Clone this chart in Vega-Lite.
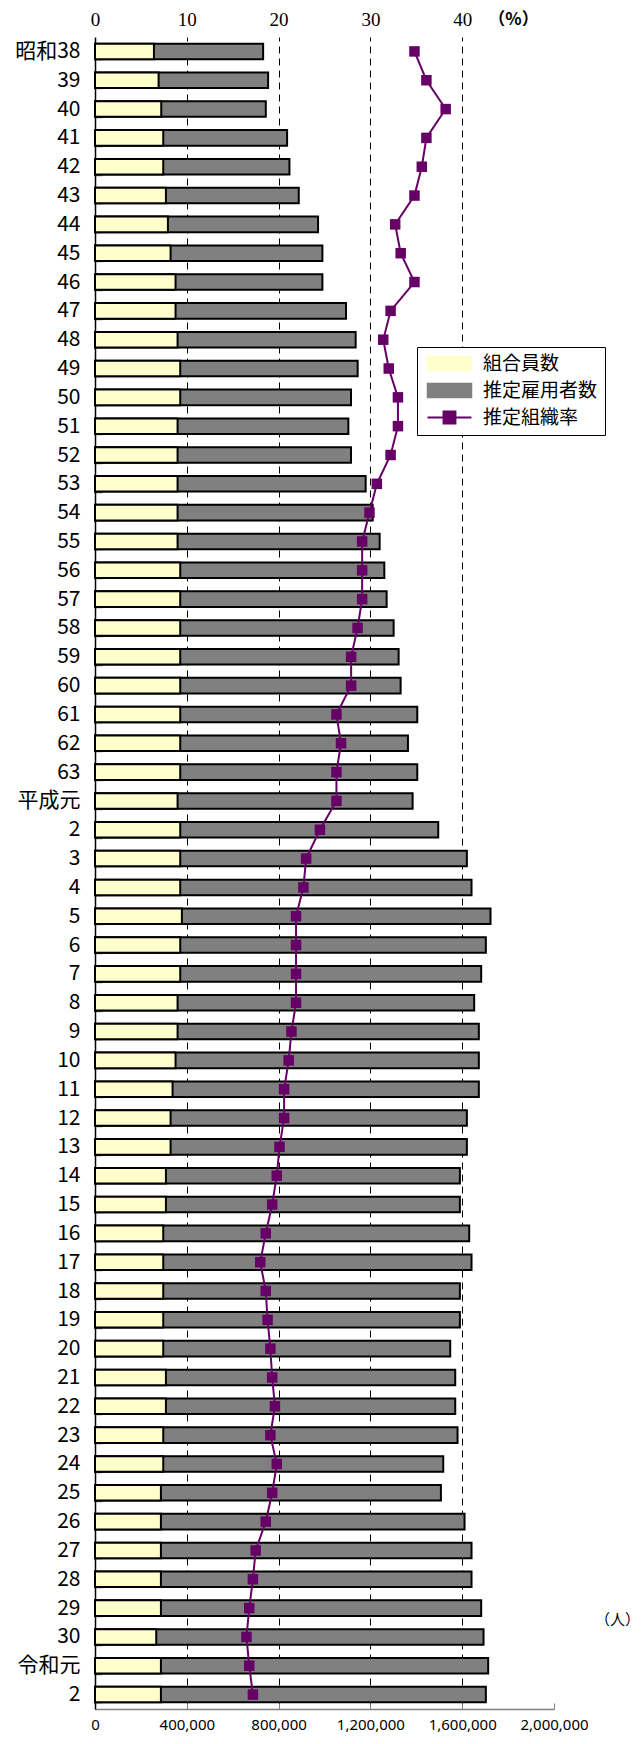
{
  "$schema": "https://vega.github.io/schema/vega-lite/v6.json",
  "autosize": {"type": "none"},
  "padding": {"left": 95, "top": 37, "right": 89, "bottom": 35},
  "width": 459,
  "height": 1672,
  "background": "white",
  "config": {"view": {"stroke": null}, "font": "Noto Sans CJK JP"},
  "data": {"values": [
    {"year": 1963, "組合員数": 256800, "推定雇用者数": 732600, "rate": 34.8},
    {"year": 1964, "組合員数": 277100, "推定雇用者数": 754300, "rate": 36.1},
    {"year": 1965, "組合員数": 288700, "推定雇用者数": 744200, "rate": 38.2},
    {"year": 1966, "組合員数": 297400, "推定雇用者数": 837000, "rate": 36.1},
    {"year": 1967, "組合員数": 297400, "推定雇用者数": 847200, "rate": 35.6},
    {"year": 1968, "組合員数": 309000, "推定雇用者数": 887800, "rate": 34.8},
    {"year": 1969, "組合員数": 317700, "推定雇用者数": 971900, "rate": 32.7},
    {"year": 1970, "組合員数": 329300, "推定雇用者数": 990800, "rate": 33.3},
    {"year": 1971, "組合員数": 351000, "推定雇用者数": 990800, "rate": 34.8},
    {"year": 1972, "組合員数": 351000, "推定雇用者数": 1093800, "rate": 32.2},
    {"year": 1973, "組合員数": 359800, "推定雇用者数": 1135800, "rate": 31.4},
    {"year": 1974, "組合員数": 371400, "推定雇用者数": 1144500, "rate": 32.0},
    {"year": 1975, "組合員数": 371400, "推定雇用者数": 1115500, "rate": 33.0},
    {"year": 1976, "組合員数": 359800, "推定雇用者数": 1103900, "rate": 33.0},
    {"year": 1977, "組合員数": 359800, "推定雇用者数": 1115500, "rate": 32.2},
    {"year": 1978, "組合員数": 359800, "推定雇用者数": 1179300, "rate": 30.7},
    {"year": 1979, "組合員数": 359800, "推定雇用者数": 1209800, "rate": 29.9},
    {"year": 1980, "組合員数": 359800, "推定雇用者数": 1240300, "rate": 29.1},
    {"year": 1981, "組合員数": 371400, "推定雇用者数": 1260600, "rate": 29.1},
    {"year": 1982, "組合員数": 371400, "推定雇用者数": 1270700, "rate": 29.1},
    {"year": 1983, "組合員数": 371400, "推定雇用者数": 1301200, "rate": 28.6},
    {"year": 1984, "組合員数": 371400, "推定雇用者数": 1323000, "rate": 27.9},
    {"year": 1985, "組合員数": 371400, "推定雇用者数": 1331700, "rate": 27.9},
    {"year": 1986, "組合員数": 371400, "推定雇用者数": 1404200, "rate": 26.3},
    {"year": 1987, "組合員数": 371400, "推定雇用者数": 1363600, "rate": 26.8},
    {"year": 1988, "組合員数": 371400, "推定雇用者数": 1404200, "rate": 26.3},
    {"year": 1989, "組合員数": 359800, "推定雇用者数": 1383900, "rate": 26.3},
    {"year": 1990, "組合員数": 371400, "推定雇用者数": 1495600, "rate": 24.5},
    {"year": 1991, "組合員数": 371400, "推定雇用者数": 1620300, "rate": 23.0},
    {"year": 1992, "組合員数": 371400, "推定雇用者数": 1640600, "rate": 22.7},
    {"year": 1993, "組合員数": 378600, "推定雇用者数": 1723300, "rate": 21.9},
    {"year": 1994, "組合員数": 371400, "推定雇用者数": 1703000, "rate": 21.9},
    {"year": 1995, "組合員数": 371400, "推定雇用者数": 1682700, "rate": 21.9},
    {"year": 1996, "組合員数": 359800, "推定雇用者数": 1652200, "rate": 21.9},
    {"year": 1997, "組合員数": 359800, "推定雇用者数": 1672500, "rate": 21.4},
    {"year": 1998, "組合員数": 351000, "推定雇用者数": 1672500, "rate": 21.1},
    {"year": 1999, "組合員数": 338000, "推定雇用者数": 1672500, "rate": 20.6},
    {"year": 2000, "組合員数": 329300, "推定雇用者数": 1620300, "rate": 20.6},
    {"year": 2001, "組合員数": 329300, "推定雇用者数": 1620300, "rate": 20.1},
    {"year": 2002, "組合員数": 309000, "推定雇用者数": 1589900, "rate": 19.8},
    {"year": 2003, "組合員数": 309000, "推定雇用者数": 1589900, "rate": 19.3},
    {"year": 2004, "組合員数": 297400, "推定雇用者数": 1630500, "rate": 18.6},
    {"year": 2005, "組合員数": 297400, "推定雇用者数": 1640600, "rate": 18.0},
    {"year": 2006, "組合員数": 297400, "推定雇用者数": 1589900, "rate": 18.6},
    {"year": 2007, "組合員数": 297400, "推定雇用者数": 1589900, "rate": 18.8},
    {"year": 2008, "組合員数": 297400, "推定雇用者数": 1547800, "rate": 19.1},
    {"year": 2009, "組合員数": 309000, "推定雇用者数": 1569600, "rate": 19.3},
    {"year": 2010, "組合員数": 309000, "推定雇用者数": 1569600, "rate": 19.6},
    {"year": 2011, "組合員数": 297400, "推定雇用者数": 1579700, "rate": 19.1},
    {"year": 2012, "組合員数": 297400, "推定雇用者数": 1517400, "rate": 19.8},
    {"year": 2013, "組合員数": 287200, "推定雇用者数": 1507200, "rate": 19.3},
    {"year": 2014, "組合員数": 287200, "推定雇用者数": 1610200, "rate": 18.6},
    {"year": 2015, "組合員数": 287200, "推定雇用者数": 1640600, "rate": 17.5},
    {"year": 2016, "組合員数": 287200, "推定雇用者数": 1640600, "rate": 17.2},
    {"year": 2017, "組合員数": 287200, "推定雇用者数": 1682700, "rate": 16.8},
    {"year": 2018, "組合員数": 266900, "推定雇用者数": 1692900, "rate": 16.5},
    {"year": 2019, "組合員数": 287200, "推定雇用者数": 1713200, "rate": 16.8},
    {"year": 2020, "組合員数": 287200, "推定雇用者数": 1703000, "rate": 17.2}
  ]},
  "encoding": {
    "y": {
      "field": "year", "type": "ordinal", "sort": null,
      "scale": {"paddingInner": 0.46, "paddingOuter": 0.23},
      "axis": {
        "title": null,
        "labelExpr": "!isValid(datum.value) || !isFinite(+datum.value) ? '' : datum.value == 1963 ? '昭和38' : datum.value < 1989 ? '' + (datum.value - 1925) : datum.value == 1989 ? '平成元' : datum.value < 2019 ? '' + (datum.value - 1988) : datum.value == 2019 ? '令和元' : '' + (datum.value - 2018)",
        "labelFont": "Noto Sans CJK JP", "labelFontSize": 21, "labelColor": "black",
        "labelPadding": 22,
        "domainColor": "black", "domainWidth": 1.5,
        "tickBand": "extent", "tickSize": -7, "tickColor": "#808080", "tickWidth": 1.5
      }
    }
  },
  "layer": [
    {
      "transform": [{"fold": ["推定雇用者数", "組合員数"], "as": ["series", "value"]}],
      "mark": {"type": "bar", "stroke": "black", "strokeWidth": 2, "opacity": 1},
      "encoding": {
        "x": {
          "field": "value", "type": "quantitative", "stack": null,
          "scale": {"domain": [0, 2000000], "nice": false},
          "axis": {
            "orient": "bottom",
            "values": [0, 400000, 800000, 1200000, 1600000, 2000000],
            "format": ",d",
            "labelOverlap": false, "labelFlush": false,
            "labelFont": "Noto Sans", "labelFontSize": 15, "labelColor": "black",
            "labelPadding": 14,
            "domainColor": "#808080", "domainWidth": 1.5,
            "tickSize": -6, "tickColor": "#808080",
            "grid": true,
            "gridColor": {"condition": {"test": "datum.value == 0 || datum.value == 2000000", "value": "transparent"}, "value": "black"},
            "gridDash": [7, 5], "gridWidth": 1,
            "title": "（人）",
            "titleFont": "Noto Sans CJK JP", "titleFontSize": 15, "titleFontWeight": "normal",
            "titleX": 522, "titleY": -90, "titleAlign": "center", "titleBaseline": "middle", "titleAngle": 0
          }
        },
        "color": {
          "field": "series", "type": "nominal",
          "scale": {"domain": ["組合員数", "推定雇用者数", "推定組織率"], "range": ["#FFFFCC", "#808080", "#660066"]},
          "legend": {
            "title": null, "orient": "none", "legendX": 322, "legendY": 310,
            "strokeColor": "black", "fillColor": "white", "padding": 7,
            "labelFont": "Noto Sans CJK JP", "labelFontSize": 19, "labelColor": "black",
            "symbolSize": 1936, "symbolOffset": 16, "labelOffset": 24, "rowPadding": 6,
            "encode": {
              "symbols": {
                "update": {
                  "size": {"value": 1936},
                  "shape": {"signal": "datum.value === '推定組織率' ? 'M-1,0H1M-0.27,-0.27H0.27V0.27H-0.27Z' : 'M-1,-0.32H1V0.32H-1Z'"},
                  "fill": {"signal": "datum.value === '組合員数' ? '#FFFFCC' : datum.value === '推定雇用者数' ? '#808080' : '#660066'"},
                  "stroke": {"signal": "datum.value === '推定組織率' ? '#660066' : 'black'"},
                  "strokeWidth": {"signal": "datum.value === '推定組織率' ? 2 : 1.5"},
                  "opacity": {"value": 1},
                  "fillOpacity": {"value": 1}
                }
              }
            }
          }
        }
      }
    },
    {
      "mark": {"type": "line", "strokeWidth": 2, "point": {"shape": "square", "size": 110, "filled": true, "opacity": 1}},
      "encoding": {
        "x": {
          "field": "rate", "type": "quantitative",
          "scale": {"domain": [0, 50], "nice": false},
          "axis": {
            "orient": "top",
            "values": [0, 10, 20, 30, 40],
            "labelFlush": false,
            "domain": false, "ticks": false, "grid": false,
            "labelFont": "Liberation Serif", "labelFontSize": 19, "labelColor": "black",
            "labelPadding": 8,
            "title": "（%）",
            "titleFont": "Noto Sans CJK JP", "titleFontSize": 17, "titleFontWeight": "bold",
            "titleX": 418, "titleY": -18, "titleAlign": "center", "titleBaseline": "middle", "titleAngle": 0
          }
        },
        "color": {
          "datum": "推定組織率",
          "legend": {
            "title": null, "orient": "none", "legendX": 322, "legendY": 310,
            "strokeColor": "black", "fillColor": "white", "padding": 7,
            "labelFont": "Noto Sans CJK JP", "labelFontSize": 19, "labelColor": "black",
            "symbolSize": 1936, "symbolOffset": 16, "labelOffset": 24, "rowPadding": 6,
            "encode": {
              "symbols": {
                "update": {
                  "size": {"value": 1936},
                  "shape": {"signal": "datum.value === '推定組織率' ? 'M-1,0H1M-0.27,-0.27H0.27V0.27H-0.27Z' : 'M-1,-0.32H1V0.32H-1Z'"},
                  "fill": {"signal": "datum.value === '組合員数' ? '#FFFFCC' : datum.value === '推定雇用者数' ? '#808080' : '#660066'"},
                  "stroke": {"signal": "datum.value === '推定組織率' ? '#660066' : 'black'"},
                  "strokeWidth": {"signal": "datum.value === '推定組織率' ? 2 : 1.5"},
                  "opacity": {"value": 1},
                  "fillOpacity": {"value": 1}
                }
              }
            }
          }
        },
        "order": {"field": "year"}
      }
    }
  ],
  "resolve": {"scale": {"x": "independent"}}
}
